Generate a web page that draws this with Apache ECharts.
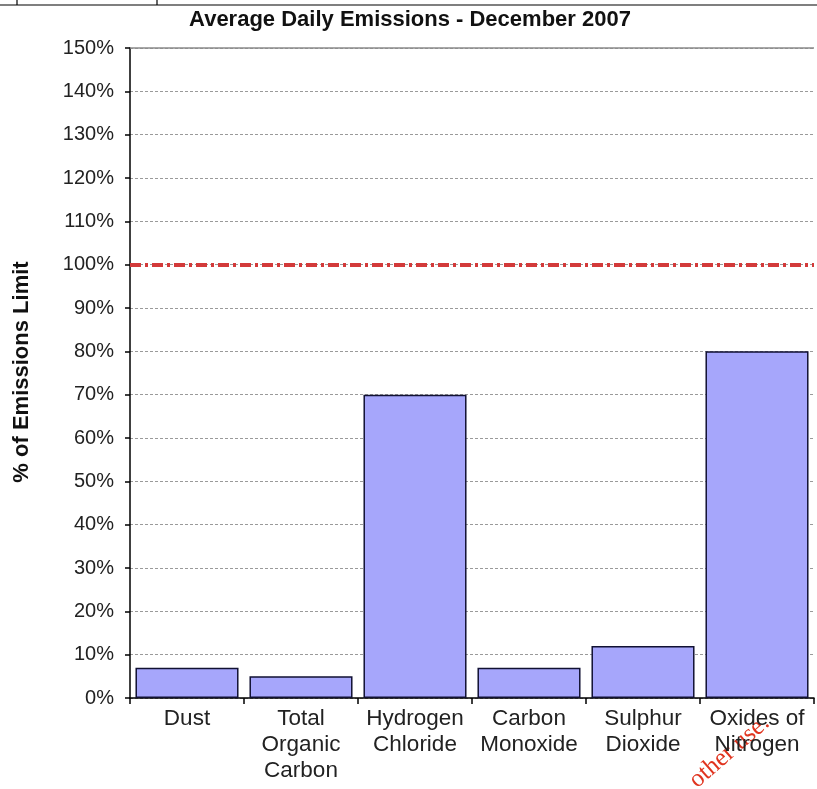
<!DOCTYPE html>
<html>
<head>
<meta charset="utf-8">
<script src="https://cdn.jsdelivr.net/npm/echarts@6/dist/echarts.min.js"></script>
<style>
  html, body { margin: 0; padding: 0; background: #fff; }
  #chart { width: 817px; height: 789px; }
</style>
</head>
<body>
<div id="chart"></div>
<script>
// Pollutant categories (line breaks give the wrapped axis labels)
const categories = [
  'Dust',
  'Total\nOrganic\nCarbon',
  'Hydrogen\nChloride',
  'Carbon\nMonoxide',
  'Sulphur\nDioxide',
  'Oxides of\nNitrogen'
];
// Average daily emissions, % of the permitted limit
const emissionPct = [7, 5, 70, 7, 12, 80];
// Permitted limit reference line and axis range
const limitPct = 100;
const axisMin = 0;
const axisMax = 150;
const axisStep = 10;

const FONT = '"Liberation Sans", Arial, sans-serif';

const chart = echarts.init(document.getElementById('chart'), null, { renderer: 'canvas' });

chart.setOption({
  animation: false,
  backgroundColor: '#ffffff',
  grid: { left: 130, right: 3, top: 48, bottom: 91, containLabel: false },
  xAxis: {
    type: 'category',
    data: categories,
    axisLine: { show: true, lineStyle: { color: '#000', width: 1.5 } },
    axisTick: { show: true, length: 6, lineStyle: { color: '#000', width: 1.5 } },
    axisLabel: {
      interval: 0, margin: 8, color: '#222', fontFamily: FONT, fontSize: 22.5,
      lineHeight: 26, align: 'center'
    },
    splitLine: { show: false }
  },
  yAxis: {
    type: 'value',
    min: axisMin, max: axisMax, interval: axisStep,
    axisLine: { show: true, lineStyle: { color: '#000', width: 1.5 } },
    axisTick: { show: true, length: 5, lineStyle: { color: '#000', width: 1.5 } },
    axisLabel: { formatter: '{value}%', margin: 16, color: '#222', fontFamily: FONT, fontSize: 20 },
    splitLine: { show: true, lineStyle: { color: '#9a9a9a', width: 1, type: [3, 2] } }
  },
  series: [{
    type: 'bar',
    data: emissionPct,
    barCategoryGap: '9.6%',
    itemStyle: { color: '#a6a6fb', borderColor: '#111133', borderWidth: 1.5 },
    markLine: {
      silent: true,
      symbol: 'none',
      label: { show: false },
      data: [
        { yAxis: axisMax, lineStyle: { color: '#8a8a8a', width: 1.5, type: 'solid' } },
        { yAxis: limitPct, lineStyle: { color: '#d33a3a', width: 4, type: [11, 4, 3, 4] } }
      ]
    }
  }],
  graphic: [
    // thin frame line across the top edge
    { type: 'line', shape: { x1: 0, y1: 5, x2: 817, y2: 5 }, style: { stroke: '#000', lineWidth: 1.2 } },
    { type: 'line', shape: { x1: 17, y1: 0, x2: 17, y2: 5 }, style: { stroke: '#000', lineWidth: 1.2 } },
    { type: 'line', shape: { x1: 157, y1: 0, x2: 157, y2: 5 }, style: { stroke: '#000', lineWidth: 1.2 } },
    // chart title
    {
      type: 'text', x: 410, y: 20,
      style: {
        text: 'Average Daily Emissions - December 2007',
        font: 'bold 22px ' + FONT, fill: '#111',
        textAlign: 'center', textVerticalAlign: 'middle'
      }
    },
    // y-axis name
    {
      type: 'text', x: 22, y: 372, rotation: Math.PI / 2,
      style: {
        text: '% of Emissions Limit',
        font: 'bold 22px ' + FONT, fill: '#111',
        textAlign: 'center', textVerticalAlign: 'middle'
      }
    },
    // red stamp text in the lower right corner
    {
      type: 'text', x: 701, y: 793, rotation: 41 * Math.PI / 180,
      style: {
        text: 'other use.',
        font: '25px "Liberation Serif", "Times New Roman", serif', fill: '#e0341f',
        textAlign: 'left', textVerticalAlign: 'bottom'
      }
    }
  ]
});
</script>
</body>
</html>
